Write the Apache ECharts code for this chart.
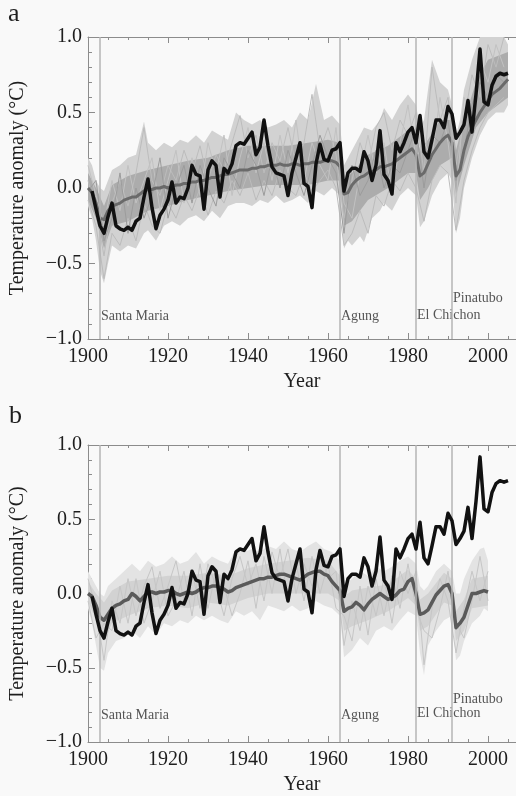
<!DOCTYPE html>
<html>
<head>
<meta charset="utf-8">
<script src="https://cdn.jsdelivr.net/npm/echarts@6/dist/echarts.min.js"></script>
<style>
html,body{margin:0;padding:0;background:#f9f9f9;}
#c{width:516px;height:796px;}
</style>
</head>
<body>
<div id="c"></div>
<script>
// ---------------- DATA ----------------
const xTicks = [1900, 1920, 1940, 1960, 1980, 2000];
const yTicks = [-1.0, -0.5, 0.0, 0.5, 1.0];

const volcanoNames = ['Santa Maria', 'Agung', 'El Chichon', 'Pinatubo'];
const volcanoYears = [1903, 1963, 1982, 1991];

// Observations (black), 1901-2005
const obsStart = 1901;
const obs = [
 -0.02,-0.14,-0.25,-0.30,-0.19,-0.10,-0.25,-0.27,-0.28,-0.26,
 -0.28,-0.22,-0.20,-0.06, 0.06,-0.13,-0.27,-0.18,-0.14,-0.08,
  0.04,-0.10,-0.06,-0.07, 0.00, 0.15, 0.09, 0.08,-0.14, 0.12,
  0.18, 0.15,-0.06, 0.13, 0.10, 0.16, 0.28, 0.30, 0.29, 0.33,
  0.37, 0.22, 0.27, 0.45, 0.28, 0.14, 0.10, 0.09, 0.08,-0.05,
  0.10, 0.20, 0.30, 0.03, 0.01,-0.13, 0.16, 0.29, 0.19, 0.18,
  0.25, 0.26, 0.30,-0.02, 0.10, 0.13, 0.13, 0.11, 0.24, 0.18,
  0.05, 0.15, 0.38, 0.09, 0.05,-0.04, 0.30, 0.24, 0.30, 0.37,
  0.40, 0.30, 0.48, 0.24, 0.20, 0.32, 0.45, 0.45, 0.40, 0.54,
  0.49, 0.33, 0.37, 0.42, 0.58, 0.37, 0.62, 0.92, 0.57, 0.55,
  0.68, 0.74, 0.76, 0.75, 0.76
];

// Ensemble mean, panel a (natural + anthropogenic), 1900-2005
const meanAStart = 1900;
const meanA = [
  0.00,-0.03,-0.10,-0.20,-0.21,-0.15,-0.12,-0.11,-0.10,-0.08,
 -0.07,-0.06,-0.06,-0.04,-0.02,-0.01,-0.01, 0.00, 0.00, 0.01,
  0.00, 0.01, 0.02, 0.02, 0.03, 0.03, 0.04, 0.04, 0.05, 0.05,
  0.06, 0.07, 0.07, 0.08, 0.09, 0.09, 0.10, 0.11, 0.12, 0.12,
  0.12, 0.13, 0.13, 0.14, 0.14, 0.15, 0.15, 0.15, 0.16, 0.15,
  0.15, 0.16, 0.16, 0.15, 0.16, 0.16, 0.17, 0.17, 0.17, 0.18,
  0.18, 0.18, 0.17, 0.14,-0.04,-0.03, 0.02, 0.05, 0.07, 0.08,
  0.10, 0.11, 0.12, 0.14, 0.14, 0.15, 0.16, 0.18, 0.20, 0.22,
  0.24, 0.26, 0.22, 0.08, 0.10, 0.16, 0.22, 0.26, 0.30, 0.33,
  0.35, 0.30, 0.08, 0.12, 0.25, 0.34, 0.40, 0.45, 0.50, 0.54,
  0.58, 0.62, 0.64, 0.66, 0.69, 0.72
];

// Ensemble mean, panel b (natural only), 1900-2000
const meanBStart = 1900;
const meanB = [
  0.00,-0.02,-0.08,-0.16,-0.18,-0.14,-0.10,-0.08,-0.07,-0.05,
 -0.04, 0.00,-0.02,-0.05,-0.02, 0.01, 0.01, 0.00, 0.01, 0.01,
  0.02, 0.02, 0.00,-0.01, 0.00, 0.01, 0.00, 0.01, 0.03, 0.04,
  0.04, 0.05, 0.05, 0.04, 0.03, 0.01, 0.02, 0.04, 0.05, 0.06,
  0.07, 0.08, 0.09, 0.10, 0.10, 0.11, 0.11, 0.12, 0.13, 0.13,
  0.12, 0.11, 0.10, 0.09, 0.11, 0.13, 0.14, 0.15, 0.15, 0.13,
  0.12, 0.08, 0.05, 0.02,-0.12,-0.10,-0.09,-0.06,-0.08,-0.11,
 -0.07,-0.04,-0.02, 0.00,-0.02,-0.04,-0.03,-0.01, 0.02, 0.03,
  0.08, 0.10, 0.00,-0.14,-0.13,-0.11,-0.06,-0.01, 0.02, 0.05,
  0.06, 0.00,-0.23,-0.20,-0.16,-0.08, 0.00, 0.00, 0.01, 0.02,
  0.01
];

// Spread of individual simulations, panel a: [year, low, high]
const spreadAOuter = [
 [1900,-0.12,0.20],[1901,-0.20,0.15],[1902,-0.35,0.05],[1903,-0.55,0.00],[1904,-0.63,-0.02],
 [1905,-0.50,0.05],[1906,-0.38,0.12],[1908,-0.42,0.15],[1910,-0.38,0.20],[1912,-0.40,0.22],
 [1914,-0.30,0.44],[1915,-0.28,0.30],[1917,-0.35,0.25],[1919,-0.25,0.30],[1921,-0.22,0.27],
 [1923,-0.25,0.32],[1925,-0.20,0.30],[1927,-0.18,0.35],[1929,-0.22,0.30],[1931,-0.15,0.38],
 [1933,-0.20,0.35],[1935,-0.12,0.32],[1937,-0.10,0.50],[1939,-0.10,0.45],[1941,-0.12,0.42],
 [1943,-0.08,0.45],[1945,-0.10,0.40],[1947,-0.05,0.42],[1949,-0.10,0.45],[1951,-0.08,0.40],
 [1953,-0.05,0.50],[1955,-0.10,0.45],[1957,-0.02,0.69],[1959,-0.05,0.45],[1961,0.00,0.48],
 [1963,-0.05,0.42],[1964,-0.40,0.15],[1965,-0.35,0.20],[1966,-0.38,0.25],[1968,-0.32,0.35],
 [1969,-0.36,0.40],[1971,-0.20,0.38],[1973,-0.15,0.45],[1974,-0.10,0.53],[1976,-0.15,0.45],
 [1978,-0.05,0.55],[1980,0.00,0.62],[1982,-0.05,0.55],[1983,-0.26,0.40],[1984,-0.22,0.45],
 [1986,-0.05,0.85],[1988,0.05,0.70],[1990,0.10,0.65],[1991,0.05,0.55],[1992,-0.30,0.35],
 [1993,-0.20,0.45],[1994,0.00,0.65],[1996,0.20,0.85],[1998,0.35,1.00],[2000,0.45,1.00],
 [2002,0.50,1.00],[2004,0.50,1.00],[2005,0.55,0.95]
];
const spreadACore = [
 [1900,-0.08,0.10],[1902,-0.20,0.00],[1904,-0.40,-0.12],[1906,-0.25,0.02],[1910,-0.22,0.08],
 [1915,-0.15,0.12],[1920,-0.12,0.15],[1925,-0.08,0.18],[1930,-0.05,0.20],[1935,-0.02,0.25],
 [1940,0.00,0.28],[1945,0.02,0.28],[1950,0.02,0.28],[1955,0.02,0.30],[1960,0.05,0.32],
 [1963,0.05,0.30],[1964,-0.25,0.05],[1966,-0.22,0.10],[1970,-0.08,0.22],[1975,0.00,0.28],
 [1980,0.10,0.38],[1982,0.10,0.35],[1983,-0.08,0.25],[1985,0.00,0.32],[1988,0.15,0.45],
 [1991,0.20,0.45],[1992,-0.05,0.25],[1994,0.15,0.45],[1997,0.40,0.70],[2000,0.50,0.85],
 [2005,0.60,0.90]
];

// A few individual simulations, panel a (every 2 years from 1900)
const memberAStart = 1900;
const memberA1 = [0.05,-0.15,-0.45,-0.10,0.05,-0.12,0.10,0.40,0.05,-0.05,0.15,0.05,0.25,0.10,0.28,0.05,0.22,0.12,0.30,0.48,0.20,0.35,0.10,0.30,0.18,0.40,0.15,0.30,0.62,0.25,0.40,0.22,-0.20,0.05,0.30,0.15,0.40,0.50,0.25,0.45,0.35,0.50,0.10,0.80,0.45,0.60,0.15,0.45,0.75,0.60,0.95,0.80,1.00];
const memberA2 = [-0.08,-0.25,-0.60,-0.30,-0.38,-0.20,-0.35,-0.10,-0.25,-0.30,-0.10,-0.20,-0.05,-0.15,0.00,-0.18,-0.02,-0.10,0.05,-0.05,0.10,-0.08,0.05,-0.05,0.12,0.00,-0.05,0.10,-0.02,0.05,0.12,0.00,-0.38,-0.30,-0.15,-0.30,-0.05,-0.12,0.05,-0.02,0.10,0.00,-0.22,0.05,0.15,0.10,-0.28,0.05,0.25,0.40,0.50,0.55,0.60];
const memberA3 = [0.15,-0.05,-0.25,0.05,-0.15,0.15,-0.10,0.05,0.20,-0.15,0.05,0.25,-0.10,0.20,-0.05,0.30,0.10,0.35,-0.05,0.20,0.40,0.10,0.30,0.05,0.35,0.10,0.45,0.05,0.30,0.15,0.05,0.40,-0.10,-0.20,0.10,0.35,0.10,0.30,-0.05,0.30,0.55,0.20,0.30,0.20,0.60,0.30,-0.10,0.60,0.45,0.85,0.70,0.95,0.80];
const memberA4 = [-0.02,0.05,-0.35,-0.20,0.10,-0.30,0.00,-0.20,-0.05,0.20,-0.20,0.00,0.15,-0.10,0.15,0.00,-0.12,0.20,0.10,0.00,0.25,0.15,-0.05,0.20,0.00,0.25,0.10,-0.05,0.15,0.35,0.20,0.10,-0.30,0.15,-0.05,0.05,0.25,0.00,0.15,0.10,0.25,0.40,0.00,0.35,0.30,0.45,0.05,0.25,0.55,0.70,0.60,0.75,0.70];

// Spread of individual simulations, panel b: [year, low, high]
const spreadBOuter = [
 [1900,-0.10,0.15],[1901,-0.20,0.10],[1902,-0.35,0.05],[1903,-0.50,0.00],[1904,-0.52,-0.02],
 [1905,-0.40,0.05],[1907,-0.32,0.10],[1909,-0.30,0.15],[1911,-0.25,0.20],[1913,-0.30,0.15],
 [1915,-0.22,0.22],[1917,-0.28,0.18],[1919,-0.20,0.20],[1921,-0.22,0.25],[1923,-0.18,0.20],
 [1925,-0.20,0.22],[1927,-0.15,0.28],[1929,-0.18,0.20],[1931,-0.15,0.25],[1933,-0.18,0.22],
 [1935,-0.20,0.20],[1937,-0.12,0.30],[1939,-0.15,0.28],[1941,-0.12,0.30],[1943,-0.18,0.28],
 [1945,-0.08,0.32],[1947,-0.10,0.30],[1949,-0.12,0.35],[1951,-0.08,0.30],[1953,-0.12,0.28],
 [1955,-0.10,0.32],[1957,-0.05,0.35],[1959,-0.08,0.30],[1961,-0.10,0.28],[1963,-0.15,0.22],
 [1964,-0.43,0.05],[1966,-0.38,0.10],[1968,-0.30,0.15],[1970,-0.35,0.12],[1972,-0.25,0.18],
 [1974,-0.22,0.15],[1976,-0.25,0.18],[1978,-0.18,0.22],[1980,-0.12,0.25],[1982,-0.15,0.20],
 [1983,-0.40,0.05],[1984,-0.55,0.02],[1985,-0.35,0.05],[1987,-0.25,0.15],[1989,-0.18,0.20],
 [1991,-0.15,0.15],[1992,-0.45,0.00],[1993,-0.42,0.00],[1994,-0.32,0.10],[1996,-0.20,0.22],
 [1998,-0.15,0.30],[1999,-0.10,0.31],[2000,-0.12,0.22]
];
const spreadBCore = [
 [1900,-0.05,0.08],[1902,-0.18,0.00],[1904,-0.32,-0.06],[1906,-0.20,0.02],[1910,-0.15,0.08],
 [1915,-0.10,0.10],[1920,-0.08,0.12],[1925,-0.10,0.12],[1930,-0.06,0.14],[1935,-0.08,0.12],
 [1940,-0.03,0.17],[1945,0.00,0.20],[1950,0.00,0.22],[1955,0.00,0.24],[1960,0.00,0.22],
 [1963,-0.05,0.12],[1964,-0.25,-0.02],[1966,-0.22,0.02],[1970,-0.18,0.04],[1975,-0.12,0.06],
 [1980,-0.03,0.16],[1982,-0.08,0.10],[1983,-0.25,-0.04],[1985,-0.22,0.00],[1989,-0.06,0.14],
 [1991,-0.08,0.10],[1992,-0.32,-0.12],[1994,-0.25,-0.04],[1996,-0.10,0.10],[2000,-0.08,0.12]
];

// A few individual simulations, panel b (every 2 years from 1900)
const memberBStart = 1900;
const memberB1 = [0.10,-0.10,-0.45,-0.05,-0.20,0.10,-0.15,0.05,0.18,-0.10,0.05,0.22,-0.05,0.15,-0.10,0.20,0.05,-0.15,0.10,0.25,0.05,0.20,-0.05,0.28,0.10,0.30,0.00,0.20,0.05,0.30,0.10,0.15,-0.35,-0.05,-0.25,0.05,-0.15,0.10,-0.20,0.15,0.00,0.15,-0.48,-0.10,0.10,-0.05,-0.40,-0.10,0.15,-0.05,0.15];
const memberB2 = [-0.05,-0.30,-0.20,-0.25,0.05,-0.20,0.10,-0.20,-0.05,0.15,-0.15,-0.05,0.15,-0.15,0.20,-0.10,0.15,0.05,-0.15,0.00,0.22,-0.10,0.25,0.00,0.30,-0.05,0.20,-0.05,0.25,0.00,0.20,-0.10,-0.15,-0.32,0.05,-0.28,0.10,-0.15,0.12,-0.10,0.20,-0.10,-0.25,-0.30,-0.10,0.15,-0.20,-0.30,-0.05,0.25,-0.05];

// ---------------- BUILD ----------------
function pairs(start, arr){ return arr.map((v,i)=>[start+i, v]); }
function pairs2(start, arr){ return arr.map((v,i)=>[start+2*i, v]); }

const FONT = '"Liberation Serif", "DejaVu Serif", serif';
const TXT = '#1e1e1e';
const AX = '#8c8c8c';

function yLabel(v){
  if (Math.abs(v) < 1e-9) return '0.0';
  return (v < 0 ? '\u2212' : '') + Math.abs(v).toFixed(1);
}

function bandSeries(data, color, xi, yi, z){
  return {
    type: 'custom', xAxisIndex: xi, yAxisIndex: yi, z: z, silent: true,
    data: data, encode: {x: 0, y: [1, 2]},
    renderItem: function(params, api){
      if (params.dataIndex !== 0) return;
      const pts = [];
      for (let i = 0; i < data.length; i++) pts.push(api.coord([data[i][0], data[i][2]]));
      for (let i = data.length - 1; i >= 0; i--) pts.push(api.coord([data[i][0], data[i][1]]));
      return {type: 'polygon', shape: {points: pts}, style: {fill: color, stroke: null}};
    }
  };
}

function makeX(gi, pos){
  const bottom = pos === 'bottom';
  return {
    gridIndex: gi, type: 'value', position: pos, min: 1900, max: 2007, interval: 20,
    axisLine: {show: true, onZero: false, lineStyle: {color: AX, width: 1}},
    axisTick: {show: true, inside: true, length: 6, lineStyle: {color: AX}},
    minorTick: {show: true, splitNumber: 4, length: 3, lineStyle: {color: AX}},
    splitLine: {show: false},
    axisLabel: {show: bottom, margin: 8, fontFamily: FONT, fontSize: 20, color: TXT,
                showMaxLabel: false, formatter: v => String(v)},
    name: bottom ? 'Year' : '', nameLocation: 'middle', nameGap: 33,
    nameTextStyle: {fontFamily: FONT, fontSize: 20, color: TXT}
  };
}
function makeY(gi){
  return {
    gridIndex: gi, type: 'value', min: -1, max: 1, interval: 0.5,
    axisLine: {show: true, onZero: false, lineStyle: {color: AX, width: 1}},
    axisTick: {show: true, inside: true, length: 7, lineStyle: {color: AX}},
    minorTick: {show: true, splitNumber: 5, length: 4, lineStyle: {color: AX}},
    splitLine: {show: false},
    axisLabel: {margin: 6, fontFamily: FONT, fontSize: 20, color: TXT, formatter: yLabel},
    name: 'Temperature anomaly (\u00B0C)', nameLocation: 'middle', nameGap: 60,
    nameTextStyle: {fontFamily: FONT, fontSize: 20, color: TXT}
  };
}

function volcanoSeries(xi, yi, labelYs){
  return {
    type: 'scatter', xAxisIndex: xi, yAxisIndex: yi, z: 1, silent: true,
    symbolSize: 0,
    data: volcanoYears.map((y, i) => ({value: [y, labelYs[i]], name: volcanoNames[i]})),
    label: {show: true, position: 'right', distance: 1, formatter: p => p.name,
            fontFamily: FONT, fontSize: 14, color: '#2a2a2a'},
    markLine: {
      silent: true, symbol: ['none', 'none'], label: {show: false},
      lineStyle: {color: '#b4b4b4', width: 1.5, type: 'solid'},
      data: volcanoYears.map(y => ({xAxis: y}))
    }
  };
}

function lineSeries(data, color, width, xi, yi, z){
  return {type: 'line', xAxisIndex: xi, yAxisIndex: yi, z: z, data: data, silent: true,
          showSymbol: false, symbol: 'none', lineStyle: {color: color, width: width, join: 'round'}};
}

const option = {
  backgroundColor: '#f9f9f9',
  animation: false,
  grid: [
    {left: 88, right: 0, top: 37, height: 302},
    {left: 88, right: 0, top: 445, height: 303}
  ],
  xAxis: [makeX(0, 'bottom'), makeX(0, 'top'), makeX(1, 'bottom'), makeX(1, 'top')],
  yAxis: [makeY(0), makeY(1)],
  graphic: [
    {type: 'text', left: 8, top: 1, style: {text: 'a', fontFamily: FONT, fontSize: 26, fill: TXT}},
    {type: 'text', left: 9, top: 403, style: {text: 'b', fontFamily: FONT, fontSize: 26, fill: TXT}}
  ],
  series: [
    volcanoSeries(0, 0, [-0.85, -0.85, -0.84, -0.73]),
    bandSeries(spreadAOuter, '#d2d2d2', 0, 0, 2),
    bandSeries(spreadACore, '#acacac', 0, 0, 3),
    lineSeries(pairs2(memberAStart, memberA1), '#bcbcbc', 1, 0, 0, 3),
    lineSeries(pairs2(memberAStart, memberA2), '#bcbcbc', 1, 0, 0, 3),
    lineSeries(pairs2(memberAStart, memberA3), '#c2c2c2', 1, 0, 0, 3),
    lineSeries(pairs2(memberAStart, memberA4), '#9c9c9c', 1, 0, 0, 3),
    lineSeries(pairs(meanAStart, meanA), '#6a6a6a', 3, 0, 0, 4),
    lineSeries(pairs(obsStart, obs), '#111111', 3.5, 0, 0, 5),

    volcanoSeries(2, 1, [-0.82, -0.82, -0.81, -0.71]),
    bandSeries(spreadBOuter, '#e3e3e3', 2, 1, 2),
    bandSeries(spreadBCore, '#d2d2d2', 2, 1, 3),
    lineSeries(pairs2(memberBStart, memberB1), '#c6c6c6', 1, 2, 1, 3),
    lineSeries(pairs2(memberBStart, memberB2), '#c6c6c6', 1, 2, 1, 3),
    lineSeries(pairs(meanBStart, meanB), '#5a5a5a', 3.5, 2, 1, 4),
    lineSeries(pairs(obsStart, obs), '#111111', 3.5, 2, 1, 5)
  ]
};

const chart = echarts.init(document.getElementById('c'), null, {renderer: 'canvas'});
chart.setOption(option);
</script>
</body>
</html>
